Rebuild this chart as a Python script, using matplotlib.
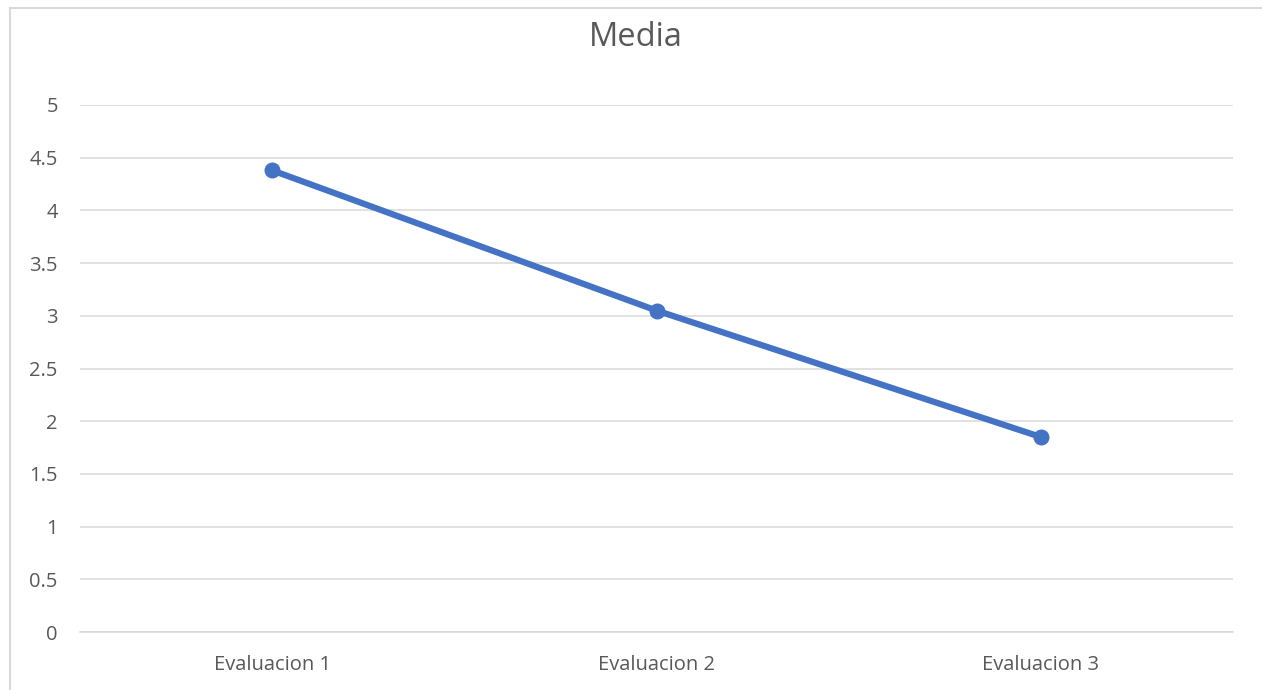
import matplotlib.pyplot as plt
from matplotlib.lines import Line2D
from matplotlib.ticker import MultipleLocator

evaluaciones = ["Evaluacion 1", "Evaluacion 2", "Evaluacion 3"]
media = [4.38, 3.05, 1.85]

plt.rcParams['font.family'] = ['Open Sans', 'DejaVu Sans']

fig = plt.figure(figsize=(12.62, 6.9), dpi=100)
ax = fig.add_axes([80 / 1262, 58 / 690, 1153 / 1262, 527 / 690])

x = list(range(len(evaluaciones)))
ax.plot(x, media, color='#4472C4', linewidth=4.5, marker='o', markersize=10.5,
        solid_capstyle='round', zorder=3)

ax.set_xlim(-0.5, len(evaluaciones) - 0.5)
ax.set_ylim(0, 5)
ax.yaxis.set_major_locator(MultipleLocator(0.5))
ax.set_yticklabels([f'{v:g}' for v in ax.get_yticks()])
ax.set_xticks(x)
ax.set_xticklabels(evaluaciones)

ax.grid(axis='y', color='#D9D9D9', linewidth=1.1)
ax.set_axisbelow(True)
for s in ['top', 'right', 'left']:
    ax.spines[s].set_visible(False)
ax.spines['bottom'].set_color('#D9D9D9')
ax.spines['bottom'].set_linewidth(1.1)
ax.tick_params(length=0, colors='#595959', labelsize=14.5)
ax.tick_params(axis='y', pad=16)
ax.tick_params(axis='x', pad=16.5)

fig.text(636 / 1262, 1 - 37 / 690, "Media", ha='center', va='center',
         fontsize=23.5, color='#595959')

# borde del grafico (solo izquierda y arriba)
fig.add_artist(Line2D([9.5 / 1262, 9.5 / 1262], [0, 1 - 7.5 / 690],
                      color='#D9D9D9', linewidth=1.5))
fig.add_artist(Line2D([9.5 / 1262, 1], [1 - 7.5 / 690, 1 - 7.5 / 690],
                      color='#D9D9D9', linewidth=1.5))

fig.savefig('out.png', dpi=100, facecolor='white')
